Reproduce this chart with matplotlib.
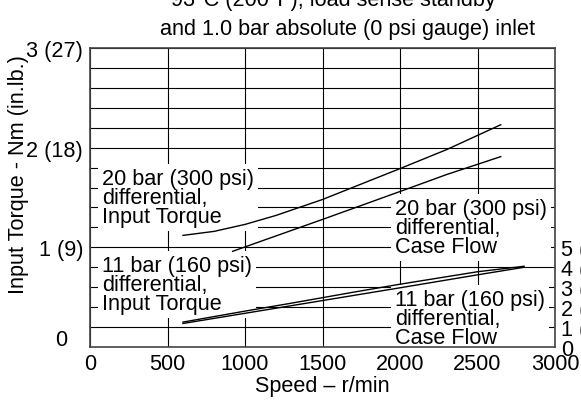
import numpy as np
import matplotlib.pyplot as plt

plt.rcParams['font.family'] = ['Liberation Sans', 'DejaVu Sans']

# speeds in r/min
speed_20_torque = [600, 800, 1000, 1200, 1500, 2000, 2300, 2650]
torque_20 = [1.12, 1.16, 1.23, 1.32, 1.48, 1.79, 1.98, 2.23]

speed_20_flow = [920, 1500, 2000, 2300, 2650]
flow_20 = [4.8, 6.4, 7.8, 8.65, 9.55]

speed_11_torque = [600, 1000, 1300, 1700, 2000, 2500, 2800]
torque_11 = [0.25, 0.36, 0.44, 0.55, 0.63, 0.755, 0.81]

speed_11_flow = [600, 1500, 2000, 2500, 2800]
flow_11 = [1.18, 2.33, 2.97, 3.62, 4.0]

x_ticks = [0, 500, 1000, 1500, 2000, 2500, 3000]
y_ticks = [1, 2, 3]
y_tick_labels = ['1 (9)', '2 (18)', '3 (27)']
flow_ticks = [0, 1, 2, 3, 4, 5]
flow_tick_labels = ['0', '1 (0.3)', '2 (0.5)', '3 (0.8)', '4 (1.1)', '5 (1.3)']

FS = 15.6

fig = plt.figure(figsize=(5.81, 4.02), dpi=100)
ax = fig.add_axes([90 / 581, 54 / 402, 465 / 581, 299 / 402])

ax.set_xlim(0, 3000)
ax.set_ylim(0, 3)
ax.set_xticks(x_ticks)
ax.set_yticks(y_ticks)
ax.set_yticklabels(y_tick_labels)
ax.set_yticks(np.arange(0.2, 3.0, 0.2), minor=True)
ax.tick_params(which='both', length=0, labelsize=FS)
ax.tick_params(axis='x', pad=4)
ax.tick_params(axis='y', pad=5)
ax.set_axisbelow(True)
ax.grid(True, which='both', color='black', linewidth=0.8)
for s in ax.spines.values():
    s.set_color('#444444')
    s.set_linewidth(1.2)
    s.set_zorder(6)

ax.set_xlabel('Speed \u2013 r/min', fontsize=FS, labelpad=1)
fig.text(19 / 581, 1 - 175 / 402, 'Input Torque - Nm (in.lb.)', fontsize=FS,
         rotation=90, ha='center', va='center')
fig.text(61 / 581, 1 - 341 / 402, '0', fontsize=FS, ha='center', va='center')

# case flow on the right scale (5 units per 1 Nm)
ax2 = ax.twinx()
ax2.set_ylim(0, 15)
ax2.set_yticks(flow_ticks)
ax2.set_yticklabels(flow_tick_labels)
ax2.tick_params(length=0, labelsize=FS, pad=4.5)
for s in ax2.spines.values():
    s.set_visible(False)

ax.plot(speed_20_torque, torque_20, color='black', lw=1.0, zorder=4)
ax.plot(speed_11_torque, torque_11, color='black', lw=1.0, zorder=4)
ax2.plot(speed_20_flow, flow_20, color='black', lw=1.0, zorder=4)
ax2.plot(speed_11_flow, flow_11, color='black', lw=1.0, zorder=4)

box = dict(facecolor='white', edgecolor='none', pad=3)
ax.text(0.0258, 0.417, '20 bar (300 psi)\ndifferential,\nInput Torque',
        transform=ax.transAxes, fontsize=FS, linespacing=0.88,
        va='baseline', ha='left', bbox=box, zorder=3)
ax.text(0.0258, 0.127, '11 bar (160 psi)\ndifferential,\nInput Torque',
        transform=ax.transAxes, fontsize=FS, linespacing=0.88,
        va='baseline', ha='left', bbox=box, zorder=3)
ax.text(0.656, 0.318, '20 bar (300 psi)\ndifferential,\nCase Flow',
        transform=ax.transAxes, fontsize=FS, linespacing=0.88,
        va='baseline', ha='left', bbox=box, zorder=3)
ax.text(0.656, 0.0134, '11 bar (160 psi)\ndifferential,\nCase Flow',
        transform=ax.transAxes, fontsize=FS, linespacing=0.88,
        va='baseline', ha='left', bbox=box, zorder=3)

fig.text(333 / 581, 1 - 6 / 402, '93\u00b0C (200\u00b0F), load sense standby',
         fontsize=FS, ha='center', va='baseline')
fig.text(347 / 581, 1 - 35 / 402, 'and 1.0 bar absolute (0 psi gauge) inlet',
         fontsize=FS, ha='center', va='baseline')

plt.savefig('out.png', dpi=100)
